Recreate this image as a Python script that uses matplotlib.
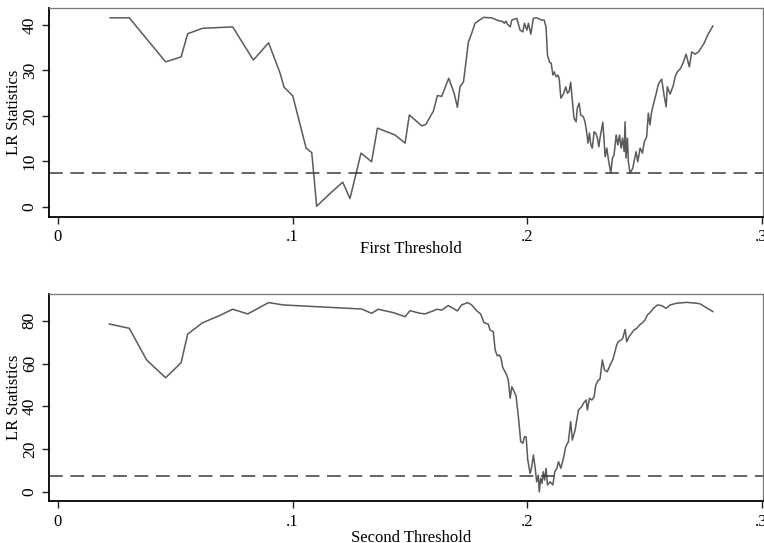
import numpy as np
import matplotlib
matplotlib.use('Agg')
import matplotlib.pyplot as plt

# first threshold: LR statistic vs threshold value
x1 = [0.0222, 0.0304, 0.0459, 0.0525, 0.0553, 0.0617, 0.0745, 0.0833, 0.0898, 0.0947,
      0.0964, 0.0980, 0.1001, 0.1058, 0.1082, 0.1103, 0.1160, 0.1214, 0.1245, 0.1292,
      0.1337, 0.1362, 0.1437, 0.1480, 0.1498, 0.1551, 0.1568, 0.1601, 0.1618, 0.1636,
      0.1666, 0.1689, 0.1703, 0.1714, 0.1729, 0.1750, 0.1764, 0.1778, 0.1797, 0.1814,
      0.1849, 0.1871, 0.1885, 0.1896, 0.1903, 0.1910, 0.1916, 0.1928, 0.1935, 0.1956,
      0.1970, 0.1982, 0.1989, 0.1999, 0.2006, 0.2016, 0.2027, 0.2041, 0.2063, 0.2073,
      0.2081, 0.2087, 0.2096, 0.2103, 0.2110, 0.2116, 0.2124, 0.2131, 0.2137, 0.2144,
      0.2155, 0.2165, 0.2172, 0.2179, 0.2186, 0.2193, 0.2200, 0.2209, 0.2214, 0.2222,
      0.2229, 0.2240, 0.2247, 0.2254, 0.2260, 0.2266, 0.2272, 0.2278, 0.2286, 0.2293,
      0.2300, 0.2306, 0.2311, 0.2323, 0.2333, 0.2340, 0.2347, 0.2357, 0.2364, 0.2371,
      0.2380, 0.2387, 0.2394, 0.2401, 0.2407, 0.2414, 0.2418, 0.2422, 0.2428, 0.2432,
      0.2439, 0.2451, 0.2456, 0.2465, 0.2472, 0.2482, 0.2492, 0.2500, 0.2510, 0.2517,
      0.2524, 0.2531, 0.2538, 0.2549, 0.2560, 0.2574, 0.2584, 0.2593, 0.2598, 0.2610,
      0.2624, 0.2631, 0.2641, 0.2655, 0.2667, 0.2678, 0.2692, 0.2702, 0.2716, 0.2731,
      0.2745, 0.2755, 0.2770, 0.2792]
lr1 = [41.6, 41.6, 31.9, 33.0, 38.1, 39.3, 39.6, 32.3, 36.1, 29.4,
       26.3, 25.5, 24.4, 12.9, 11.9, 0.1, 2.9, 5.4, 1.8, 11.8,
       9.9, 17.3, 15.8, 14.0, 20.2, 17.8, 18.1, 21.1, 24.5, 24.3,
       28.3, 25.0, 21.9, 26.4, 27.5, 36.3, 38.2, 40.4, 41.1, 41.7,
       41.6, 41.1, 40.9, 40.8, 40.4, 40.9, 40.2, 39.6, 41.1, 41.5,
       38.9, 38.5, 40.4, 38.9, 40.4, 38.0, 41.5, 41.6, 41.1, 41.1,
       39.6, 33.4, 31.8, 31.6, 29.0, 29.7, 28.6, 29.0, 28.3, 23.9,
       24.8, 26.4, 25.0, 25.3, 27.4, 23.5, 19.5, 18.7, 21.7, 22.8,
       20.2, 19.8, 18.7, 16.5, 14.0, 16.2, 13.6, 12.9, 16.5, 16.2,
       15.1, 13.2, 15.1, 18.6, 11.0, 12.9, 10.3, 7.4, 10.7, 11.4,
       15.8, 13.6, 15.8, 12.9, 15.1, 12.1, 18.7, 10.7, 15.1, 9.9,
       7.4, 8.5, 9.9, 12.1, 9.9, 12.9, 11.8, 14.3, 15.4, 20.6,
       18.0, 20.9, 22.4, 24.6, 27.0, 28.1, 24.6, 22.0, 26.4, 24.8,
       26.8, 28.6, 29.7, 30.5, 31.9, 33.6, 30.8, 34.1, 33.6, 34.1,
       35.2, 36.0, 37.8, 39.8]

# second threshold
x2 = [0.0219, 0.0304, 0.0378, 0.0459, 0.0525, 0.0553, 0.0617, 0.0684, 0.0745, 0.0809,
      0.0898, 0.0961, 0.1295, 0.1337, 0.1366, 0.1430, 0.1480, 0.1501, 0.1544, 0.1565,
      0.1601, 0.1615, 0.1636, 0.1664, 0.1685, 0.1703, 0.1721, 0.1747, 0.1764, 0.1785,
      0.1802, 0.1817, 0.1835, 0.1842, 0.1856, 0.1864, 0.1873, 0.1882, 0.1889, 0.1896,
      0.1906, 0.1913, 0.1920, 0.1928, 0.1935, 0.1945, 0.1953, 0.1963, 0.1973, 0.1982,
      0.1989, 0.1996, 0.2003, 0.2013, 0.2020, 0.2027, 0.2034, 0.2041, 0.2048, 0.2052,
      0.2058, 0.2064, 0.2069, 0.2075, 0.2081, 0.2087, 0.2098, 0.2110, 0.2118, 0.2127,
      0.2134, 0.2144, 0.2155, 0.2165, 0.2176, 0.2186, 0.2193, 0.2205, 0.2219, 0.2233,
      0.2240, 0.2252, 0.2257, 0.2266, 0.2276, 0.2286, 0.2293, 0.2304, 0.2311, 0.2321,
      0.2330, 0.2342, 0.2354, 0.2365, 0.2375, 0.2382, 0.2389, 0.2400, 0.2408, 0.2418,
      0.2425, 0.2435, 0.2446, 0.2456, 0.2468, 0.2479, 0.2489, 0.2503, 0.2513, 0.2524,
      0.2539, 0.2556, 0.2574, 0.2593, 0.2610, 0.2638, 0.2681, 0.2723, 0.2738, 0.2792]
lr2 = [78.5, 76.5, 61.7, 53.4, 60.4, 73.8, 79.1, 82.2, 85.4, 83.2,
       88.5, 87.4, 85.5, 83.5, 85.4, 83.8, 81.9, 84.7, 83.5, 83.2,
       84.7, 85.4, 85.0, 87.1, 85.8, 84.6, 87.4, 88.5, 87.4, 84.7,
       83.2, 79.1, 78.4, 75.7, 74.9, 66.4, 63.6, 64.0, 62.5, 58.3,
       56.2, 54.7, 52.3, 43.8, 49.2, 46.9, 44.9, 35.2, 23.5, 22.8,
       25.8, 25.8, 15.0, 8.7, 11.8, 17.3, 11.8, 4.8, 7.9, 0.1,
       6.4, 4.1, 9.5, 5.6, 11.1, 3.3, 4.8, 3.3, 9.5, 11.1,
       14.2, 11.1, 15.7, 21.2, 23.5, 32.9, 24.3, 29.0, 38.3, 39.9,
       41.4, 43.0, 38.3, 43.8, 43.0, 44.5, 50.0, 52.3, 52.7, 61.7,
       57.0, 56.2, 59.3, 61.7, 65.6, 68.7, 70.2, 71.0, 71.8, 76.0,
       70.2, 72.6, 74.2, 75.7, 76.5, 78.0, 78.8, 80.4, 82.7, 83.8,
       85.8, 87.4, 87.1, 85.8, 87.4, 88.2, 88.6, 88.2, 87.9, 84.3]

crit = 7.35
xticks = [0, 0.1, 0.2, 0.3]
xticklabels = ['0', '.1', '.2', '.3']

plt.rcParams['font.family'] = ['Liberation Serif', 'DejaVu Serif']
fig = plt.figure(figsize=(7.64, 5.43), dpi=100)
ax1 = fig.add_axes([0.0641, 0.6004, 0.9346, 0.3849])
ax2 = fig.add_axes([0.0641, 0.0773, 0.9346, 0.3812])

panels = [(ax1, x1, lr1, 'First Threshold', [0, 10, 20, 30, 40], (-2.27, 43.77), -0.113),
          (ax2, x2, lr2, 'Second Threshold', [0, 20, 40, 60, 80], (-4.2, 92.5), -0.138)]
for ax, xs, ys, lab, yt, yl, xly in panels:
    ax.plot(xs, ys, color='#5a5a5a', lw=1.1)
    ax.axhline(crit, color='#3a3a3a', lw=1.1, ls=(0, (9, 5)))
    ax.set_xlim(-0.00384, 0.3006)
    ax.set_ylim(*yl)
    ax.set_xticks(xticks)
    ax.set_xticklabels(xticklabels)
    ax.set_yticks(yt)
    ax.tick_params(direction='out', length=5, width=1, color='#222222',
                   labelsize=12, pad=4)
    ax.tick_params(axis='y', labelsize=12.5, pad=3)
    for t in ax.get_yticklabels():
        t.set_rotation(90)
        t.set_va('center')
    ax.set_xlabel(lab, fontsize=12)
    ax.set_ylabel('LR Statistics', fontsize=12)
    ax.xaxis.set_label_coords(0.507, xly)
    ax.yaxis.set_label_coords(-0.038, 0.5)
    ax.spines['left'].set_linewidth(1.3)
    ax.spines['bottom'].set_linewidth(1.3)
    ax.spines['top'].set_color('#777777')
    ax.spines['right'].set_color('#777777')
    ax.spines['top'].set_linewidth(0.9)
    ax.spines['right'].set_linewidth(0.9)

plt.savefig('out.png', dpi=100)
